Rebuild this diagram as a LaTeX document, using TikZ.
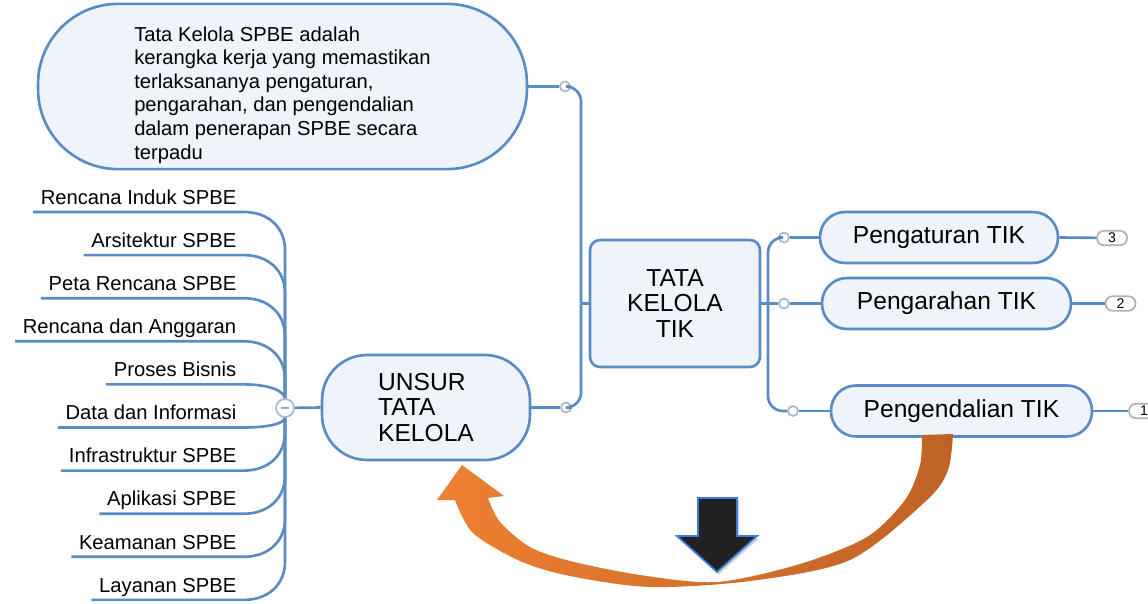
\documentclass[tikz,border=0pt]{standalone}
\usepackage{fontspec}
\setmainfont{Liberation Sans}
\usetikzlibrary{shapes, positioning, shadows}

\definecolor{linkblue}{RGB}{88,140,196}
\definecolor{boxfill}{RGB}{238,244,250}
\definecolor{knotgray}{RGB}{170,186,204}
\definecolor{arroworange}{RGB}{238,128,50}
\definecolor{arrowbrown}{RGB}{190,98,38}
\definecolor{darkarrow}{RGB}{34,34,34}
\definecolor{edgeblue}{RGB}{60,125,225}

\begin{document}
\begin{tikzpicture}[x=0.02cm, y=-0.02cm, thick,
  branch/.style={draw=linkblue, line width=1.5pt},
  topic/.style={draw=linkblue, line width=1.5pt, fill=boxfill, font=\fontsize{14}{14.7}\selectfont},
  leaf/.style={font=\fontsize{11.5}{13.4}\selectfont, anchor=south east, inner xsep=4pt, inner ysep=1.5pt, text depth=2.5pt},
  knot/.style={circle, draw=knotgray, fill=white, line width=1pt, inner sep=0pt, minimum size=0.2cm},
  badge/.style={draw=gray!60, fill=white, rounded corners=0.14cm, line width=1pt, inner sep=0pt, minimum width=0.6cm, minimum height=0.29cm, font=\fontsize{8}{8}\selectfont}]

\useasboundingbox (0,0) rectangle (1148,604);

\node[topic, rounded corners=1.6cm, minimum width=9.78cm, minimum height=3.22cm, align=left, font=\fontsize{11.5}{13.4}\selectfont] (def) at (282.5,86.5)
{\rule{0pt}{18pt}Tata Kelola SPBE adalah\\kerangka kerja yang memastikan\\terlaksananya pengaturan,\\pengarahan, dan pengendalian\\dalam penerapan SPBE secara\\terpadu};
\node[topic, rounded corners=0.2cm, minimum width=3.4cm, minimum height=2.54cm, align=center] (tata) at (675,303.5) {TATA\\KELOLA\\TIK};
\node[topic, rounded corners=0.9cm, minimum width=4.16cm, minimum height=2.1cm, align=left] (unsur) at (426,407.5) {UNSUR\\TATA\\KELOLA};
\node[topic, rounded corners=0.5cm, minimum width=4.76cm, minimum height=1.02cm] (aturan) at (939,237.5) {Pengaturan TIK};
\node[topic, rounded corners=0.5cm, minimum width=4.98cm, minimum height=1.02cm] (arahan) at (946.5,303.5) {Pengarahan TIK};
\node[topic, rounded corners=0.5cm, minimum width=5.22cm, minimum height=1.02cm] (kendali) at (961.5,411) {Pengendalian TIK};

\node[badge] (b3) at (1112,238) {3};
\node[badge] (b2) at (1120.5,303.5) {2};
\node[badge] (b1) at (1144,411) {1};

\node[knot] (kt) at (565,86.5) {};
\node[knot] (ku) at (566,407.5) {};
\node[knot] (ra) at (784,237.5) {};
\node[knot] (rb) at (784,303.5) {};
\node[knot] (rc) at (793,411) {};
\coordinate (hubc) at (285,408);
\coordinate (lj) at (581,303.5);
\coordinate (rj) at (768,303.5);

\draw[branch] (def.east) -- (kt);
\draw[branch] (unsur.east) -- (ku);
\draw[branch, rounded corners=0.3cm] (kt) -| (lj);
\draw[branch, rounded corners=0.3cm] (ku) -| (lj);
\draw[branch] (tata.west) -- (lj);
\draw[branch] (tata.east) -- (rj);
\draw[branch, rounded corners=0.3cm] (ra) -| (rj);
\draw[branch] (rb) -- (rj);
\draw[branch, rounded corners=0.3cm] (rc) -| (rj);
\draw[branch] (ra) -- (aturan.west);
\draw[branch] (rb) -- (arahan.west);
\draw[branch] (rc) -- (kendali.west);
\draw[branch] (aturan.east) -- (b3);
\draw[branch] (arahan.east) -- (b2);
\draw[branch] (kendali.east) -- (b1);
\draw[branch] (unsur.west) -- (hubc);

\foreach \name/\txt/\y/\d in {induk/Rencana Induk SPBE/212/38, arsitek/Arsitektur SPBE/255.1/38,
  peta/Peta Rencana SPBE/298.2/38, anggaran/Rencana dan Anggaran/341.3/38,
  bisnis/Proses Bisnis/384.4/15, data/Data dan Informasi/427.5/-10,
  infra/Infrastruktur SPBE/470.6/-38, aplikasi/Aplikasi SPBE/513.7/-38,
  aman/Keamanan SPBE/556.8/-38, layanan/Layanan SPBE/599.9/-38}
{
  \node[leaf] (\name) at (244,\y) {\txt};
  \draw[branch] (\name.south west) -- (\name.south east) .. controls (268,\y) and (285,{\y+0.4*\d}) .. (285,{\y+\d}) -- (hubc);
}
\node[knot, minimum size=0.36cm] (hub) at (hubc) {\color{gray!70}\rule{4pt}{0.6pt}};

\shade[left color=arroworange, right color=arrowbrown] (462,465) -- (504,496) --
  plot[smooth] coordinates {(488,498) (500,522) (530,547) (570,561) (640,575) (717,582) (800,564) (867,537) (905,500) (920,465) (922,435)} --
  plot[smooth] coordinates {(953,434) (948,470) (927,500) (850,560) (750,581) (650,587) (570,576) (520,561) (473,533) (455,500)} --
  (437,500) -- cycle;

\draw[draw=edgeblue, fill=darkarrow, line width=1pt, drop shadow={opacity=0.35, shadow xshift=0.04cm, shadow yshift=-0.05cm}]
  (698,498) -- (737,498) -- (737,536) -- (757,536) -- (717,572) -- (677,536) -- (698,536) -- cycle;
\end{tikzpicture}
\end{document}
